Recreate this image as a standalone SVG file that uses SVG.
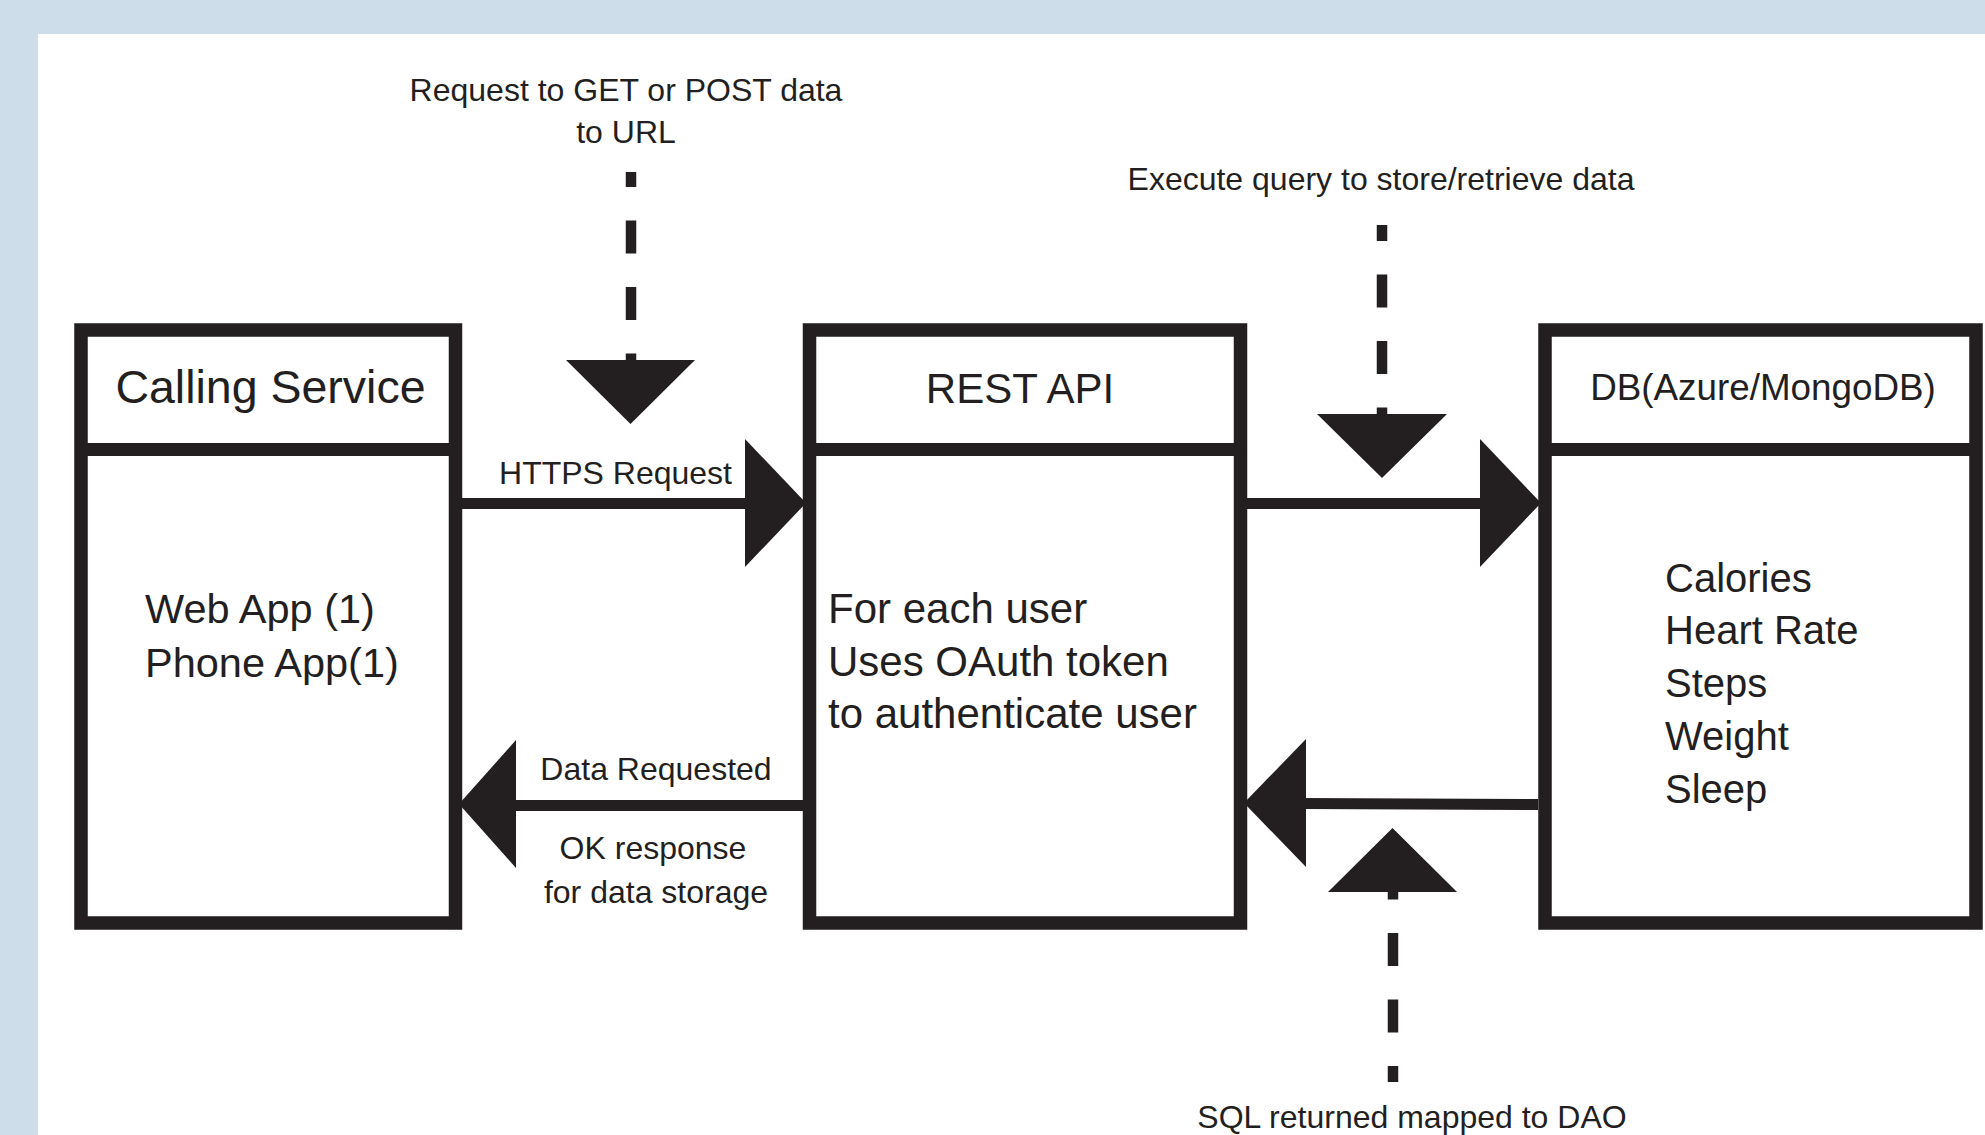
<svg xmlns="http://www.w3.org/2000/svg" width="1985" height="1135" viewBox="0 0 1985 1135">
<style>
.box{fill:none;stroke:#231F20;stroke-width:13.5}
.div{stroke:#231F20;stroke-width:13}
.ln{stroke:#231F20;stroke-width:11;fill:none}
.dash{stroke:#231F20;stroke-width:10.5;fill:none;stroke-dasharray:33 33.5}
.head{fill:#231F20}
text{font-family:"Liberation Sans",Arial,sans-serif;fill:#231F20}
.lbl{font-size:32px;text-anchor:middle}
.ttl{text-anchor:middle}
.body{font-size:41.5px}
</style>
<rect x="0" y="0" width="1985" height="1135" fill="#CDDDEA"/>
<rect x="38" y="34" width="1947" height="1101" fill="#FFFFFF"/>

<g id="calling-service">
<rect class="box" x="81" y="330" width="374.5" height="593"/>
<line class="div" x1="81" y1="449.5" x2="455.5" y2="449.5"/>
<text class="ttl" x="270.5" y="403" font-size="46.5">Calling Service</text>
<text class="body" x="145" y="623">Web App (1)</text>
<text class="body" x="145" y="677">Phone App(1)</text>
</g>

<g id="rest-api">
<rect class="box" x="809.5" y="330" width="431" height="593"/>
<line class="div" x1="809.5" y1="449.5" x2="1240.5" y2="449.5"/>
<text class="ttl" x="1020" y="403" font-size="42">REST API</text>
<text x="828" y="623" font-size="42">For each user</text>
<text x="828" y="676" font-size="42">Uses OAuth token</text>
<text x="828" y="728" font-size="42">to authenticate user</text>
</g>

<g id="db">
<rect class="box" x="1545" y="330" width="431" height="593"/>
<line class="div" x1="1545" y1="449.5" x2="1976" y2="449.5"/>
<text class="ttl" x="1763" y="400" font-size="36.8">DB(Azure/MongoDB)</text>
<text x="1665" y="592" font-size="40">Calories</text>
<text x="1665" y="644" font-size="40">Heart Rate</text>
<text x="1665" y="697" font-size="40">Steps</text>
<text x="1665" y="750" font-size="40">Weight</text>
<text x="1665" y="803" font-size="40">Sleep</text>
</g>

<g id="connectors">
<line class="ln" x1="462" y1="503.5" x2="750" y2="503.5"/>
<polygon class="head" points="745,439 806,503 745,567"/>
<line class="ln" x1="1247" y1="503.5" x2="1485" y2="503.5"/>
<polygon class="head" points="1480,439 1541,503 1480,567"/>
<line class="ln" x1="803" y1="805.5" x2="511" y2="805.5"/>
<polygon class="head" points="516,740 459,804 516,868"/>
<line class="ln" x1="1538" y1="804.5" x2="1301" y2="803.5"/>
<polygon class="head" points="1306,739 1244,803 1306,867"/>
<line class="dash" x1="631" y1="172" x2="631" y2="362" stroke-dashoffset="18"/>
<polygon class="head" points="566,360 695,360 630.5,424"/>
<line class="dash" x1="1382" y1="225" x2="1382" y2="416" stroke-dashoffset="17"/>
<polygon class="head" points="1317,414 1447,414 1382,478"/>
<line class="dash" x1="1393" y1="1082" x2="1393" y2="890" stroke-dashoffset="17"/>
<polygon class="head" points="1328,892 1457,892 1392.5,828"/>
</g>

<g id="labels">
<text class="lbl" x="626" y="101" font-size="31.3">Request to GET or POST data</text>
<text class="lbl" x="626" y="143" font-size="31.3">to URL</text>
<text class="lbl" x="1381" y="190" font-size="33.5">Execute query to store/retrieve data</text>
<text class="lbl" x="615.5" y="484" font-size="31">HTTPS Request</text>
<text class="lbl" x="656" y="780">Data Requested</text>
<text class="lbl" x="653" y="859">OK response</text>
<text class="lbl" x="656" y="903">for data storage</text>
<text class="lbl" x="1412" y="1128" font-size="33.5">SQL returned mapped to DAO</text>
</g>
</svg>
